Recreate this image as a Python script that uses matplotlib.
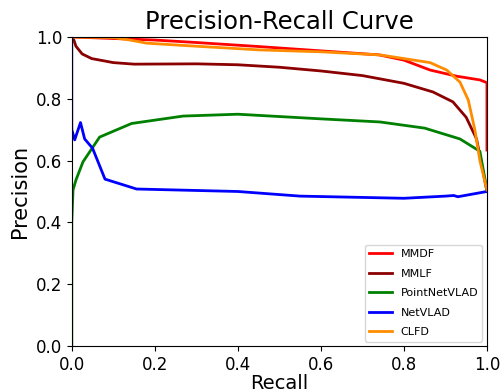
import numpy as np
import matplotlib.pyplot as plt

# Recall / precision values
mmdf_r = [0.0, 0.1, 0.2, 0.3, 0.45, 0.6, 0.74, 0.8, 0.863, 0.927, 0.983, 1.0, 1.0]
mmdf_p = [1.0, 0.995, 0.99, 0.982, 0.969, 0.955, 0.942, 0.925, 0.893, 0.873, 0.861, 0.852, 0.634]

mmlf_r = [0.0, 0.005, 0.01, 0.025, 0.048, 0.1, 0.15, 0.3, 0.4, 0.5, 0.6, 0.7, 0.8, 0.87, 0.918, 0.95, 0.975, 1.0]
mmlf_p = [1.0, 0.99, 0.97, 0.945, 0.93, 0.917, 0.912, 0.913, 0.91, 0.902, 0.89, 0.875, 0.85, 0.822, 0.79, 0.74, 0.67, 0.5]

pnv_r = [0.0, 0.0, 0.003, 0.01, 0.027, 0.067, 0.144, 0.268, 0.4, 0.6, 0.742, 0.85, 0.935, 0.983, 1.0]
pnv_p = [0.0, 0.40, 0.505, 0.537, 0.596, 0.676, 0.72, 0.744, 0.75, 0.735, 0.725, 0.705, 0.67, 0.63, 0.505]

nv_r = [0.0, 0.0, 0.007, 0.021, 0.031, 0.05, 0.08, 0.156, 0.4, 0.55, 0.8, 0.9, 0.92, 0.93, 1.0]
nv_p = [1.0, 0.70, 0.667, 0.723, 0.67, 0.64, 0.54, 0.508, 0.5, 0.485, 0.478, 0.485, 0.487, 0.483, 0.5]

clfd_r = [0.0, 0.1, 0.14, 0.18, 0.3, 0.453, 0.6, 0.742, 0.863, 0.903, 0.935, 0.955, 0.971, 0.983, 1.0]
clfd_p = [1.0, 0.998, 0.99, 0.98, 0.97, 0.958, 0.952, 0.942, 0.917, 0.893, 0.854, 0.796, 0.699, 0.60, 0.505]

fig = plt.figure(figsize=(5.02, 3.89), dpi=100)
ax = fig.add_axes([0.143, 0.1105, 0.827, 0.7945])

ax.plot(mmdf_r, mmdf_p, color='red', linewidth=2, label='MMDF')
ax.plot(mmlf_r, mmlf_p, color='darkred', linewidth=2, label='MMLF')
ax.plot(pnv_r, pnv_p, color='green', linewidth=2, label='PointNetVLAD')
ax.plot(nv_r, nv_p, color='blue', linewidth=2, label='NetVLAD')
ax.plot(clfd_r, clfd_p, color='darkorange', linewidth=2, label='CLFD')

ax.set_xlim(0, 1)
ax.set_ylim(0, 1)
ax.set_xticks(np.arange(0, 1.01, 0.2))
ax.set_yticks(np.arange(0, 1.01, 0.2))
ax.tick_params(labelsize=12)
ax.set_xlabel('Recall', fontsize=14, labelpad=0)
ax.set_ylabel('Precision', fontsize=15)
ax.set_title('Precision-Recall Curve', fontsize=17.5)
ax.legend(loc='lower right', fontsize=8, labelspacing=0.85, borderaxespad=0.4)

fig.savefig('out.png', dpi=100)
